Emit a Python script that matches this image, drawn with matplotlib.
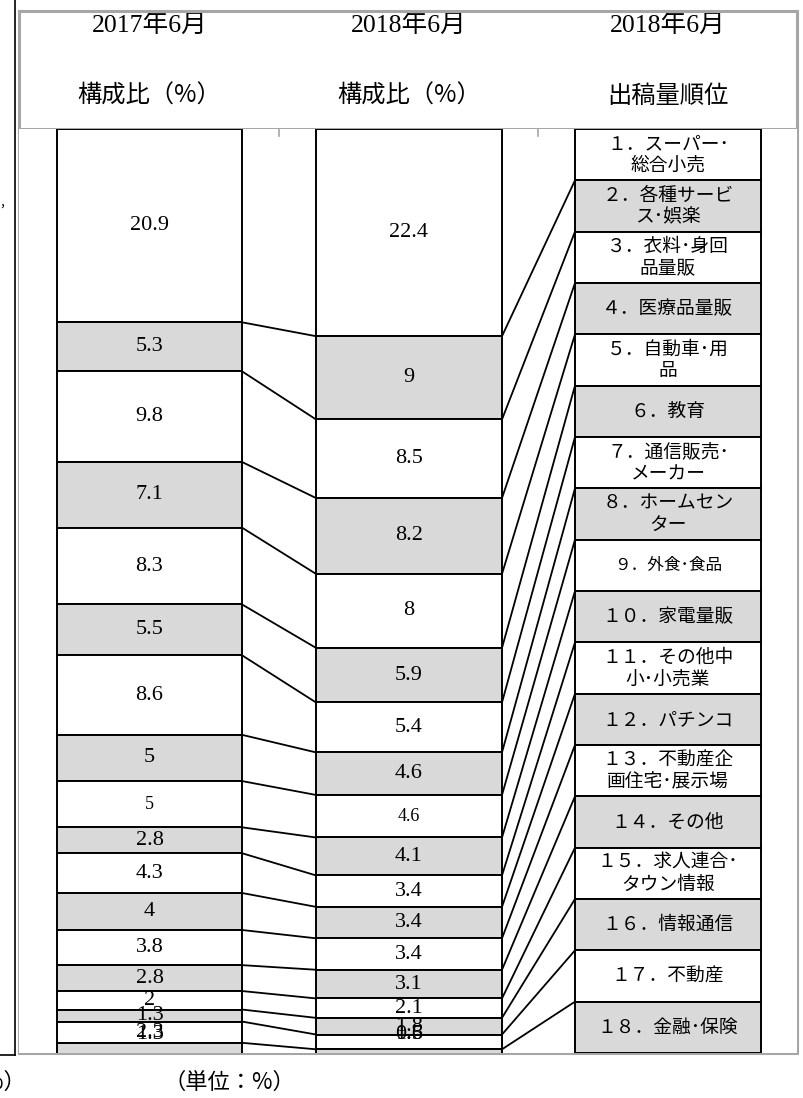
import matplotlib
matplotlib.use("Agg")
import matplotlib.pyplot as plt
from matplotlib.patches import Rectangle
import numpy as np

# ---------------- data ----------------
headers_year = ["2017年6月", "2018年6月", "2018年6月"]
headers_sub = ["構成比（%）", "構成比（%）", "出稿量順位"]
share_2017 = [20.9, 5.3, 9.8, 7.1, 8.3, 5.5, 8.6, 5, 5, 2.8, 4.3, 4, 3.8, 2.8, 2, 1.3, 2.3, 1.3]
share_2018 = [22.4, 9, 8.5, 8.2, 8, 5.9, 5.4, 4.6, 4.6, 4.1, 3.4, 3.4, 3.4, 3.1, 2.1, 1.8, 1.6, 0.5]
rank_labels = [
    "１．スーパー･\n総合小売",
    "２．各種サービ\nス･娯楽",
    "３．衣料･身回\n品量販",
    "４．医療品量販",
    "５．自動車･用\n品",
    "６．教育",
    "７．通信販売･\nメーカー",
    "８．ホームセン\nター",
    "９．外食･食品",
    "１０．家電量販",
    "１１．その他中\n小･小売業",
    "１２．パチンコ",
    "１３．不動産企\n画住宅･展示場",
    "１４．その他",
    "１５．求人連合･\nタウン情報",
    "１６．情報通信",
    "１７．不動産",
    "１８．金融･保険",
]
unit_label = "（単位：%）"

# ---------------- style / layout ----------------
W, H = 804, 1098
GRAY = "#d9d9d9"
FRAME = "#a6a6a6"
CJK = ["Noto Sans CJK JP", "DejaVu Sans"]
SERIF = ["Liberation Serif", "Noto Sans CJK JP"]

frame_l, frame_r, frame_t, frame_b = 19.5, 797, 11, 1053
plot_top = 129
YMAX = 99.9
col17 = (57, 242)
col18 = (316, 502)
colr = (575, 761)
small17 = {8}
small18 = {8}
small_rank = {8}

fig = plt.figure(figsize=(W / 100, H / 100), dpi=100)

# overlay axes in pixel coordinates
ov = fig.add_axes([0, 0, 1, 1])
ov.set_xlim(0, W)
ov.set_ylim(H, 0)
ov.axis("off")

# chart axes (x in pixels, y in percent)
ax = fig.add_axes([frame_l / W, 1 - frame_b / H, (frame_r - frame_l) / W, (frame_b - plot_top) / H])
ax.set_xlim(frame_l, frame_r)
ax.set_ylim(YMAX, 0)
ax.set_xticks([])
ax.set_yticks([])
for s in ax.spines.values():
    s.set_visible(False)

n = len(share_2017)
colors = ["white" if i % 2 == 0 else GRAY for i in range(n)]

def stack(col, vals):
    vals = np.asarray(vals, float)
    start = np.concatenate([[0], np.cumsum(vals)[:-1]])
    cx = (col[0] + col[1]) / 2
    ax.bar(np.full(n, cx), vals, bottom=start, width=col[1] - col[0],
           color=colors, edgecolor="black", linewidth=1.4, zorder=2)
    return start, start + vals, cx

s17, e17, cx17 = stack(col17, share_2017)
s18, e18, cx18 = stack(col18, share_2018)

# rank label boxes
hbox = YMAX / n
cxr = (colr[0] + colr[1]) / 2
ax.bar(np.full(n, cxr), np.full(n, hbox), bottom=np.arange(n) * hbox,
       width=colr[1] - colr[0], color=colors, edgecolor="black", linewidth=1.4, zorder=2)
for i, t in enumerate(rank_labels):
    ax.text(cxr, (i + 0.5) * hbox, t, ha="center", va="center", family=CJK,
            fontsize=12 if i in small_rank else 13.5, linespacing=1.05, zorder=4)

# value labels (kept inside the visible plot)
LABEL_LIMIT = 97.9
for starts, ends, cx, vals, small in ((s17, e17, cx17, share_2017, small17),
                                      (s18, e18, cx18, share_2018, small18)):
    for i, v in enumerate(vals):
        yc = min((starts[i] + ends[i]) / 2, LABEL_LIMIT)
        ax.text(cx, yc, f"{v:g}", ha="center", va="center", family=SERIF,
                fontsize=13 if i in small else 16, zorder=4)

# connecting lines
for i in range(n - 1):
    ax.plot([col17[1], col18[0]], [e17[i], e18[i]], color="black", lw=1.3, zorder=3)
    ax.plot([col18[1], colr[0]], [e18[i], (i + 1) * hbox], color="black", lw=1.3, zorder=3)

# small tick marks at top
for tx in ((col17[1] + col18[0]) / 2, (col18[1] + colr[0]) / 2):
    ax.plot([tx, tx], [0, 0.8], color=FRAME, lw=1.2, zorder=3)

# frame and header separator
ov.add_patch(Rectangle((frame_l, frame_t), frame_r - frame_l, frame_b - frame_t,
                       fill=False, edgecolor=FRAME, lw=2.2, zorder=5))
ov.plot([frame_l, frame_r], [plot_top, plot_top], color=FRAME, lw=2.2, zorder=5)

# headers
for col, yr, sub in zip((col17, col18, colr), headers_year, headers_sub):
    cx = (col[0] + col[1]) / 2
    ov.text(cx, 25, yr, ha="center", va="center", family=SERIF, fontsize=18.5)
    ov.text(cx, 96, sub, ha="center", va="center", family=CJK, fontsize=17.5)

# unit labels
ov.text(229, 1082, unit_label, ha="center", va="center", family=CJK, fontsize=16)
ov.text(26, 1082, unit_label, ha="right", va="center", family=CJK, fontsize=16)

# edge of the neighbouring panel on the left
ov.plot([15, 15], [0, 1055], color="black", lw=1.2)
ov.plot([0, 15], [1055, 1055], color="black", lw=1.2)
ov.text(6, 203, "，", ha="center", va="center", family=CJK, fontsize=9)

fig.savefig("out.png", dpi=100, facecolor="white")
